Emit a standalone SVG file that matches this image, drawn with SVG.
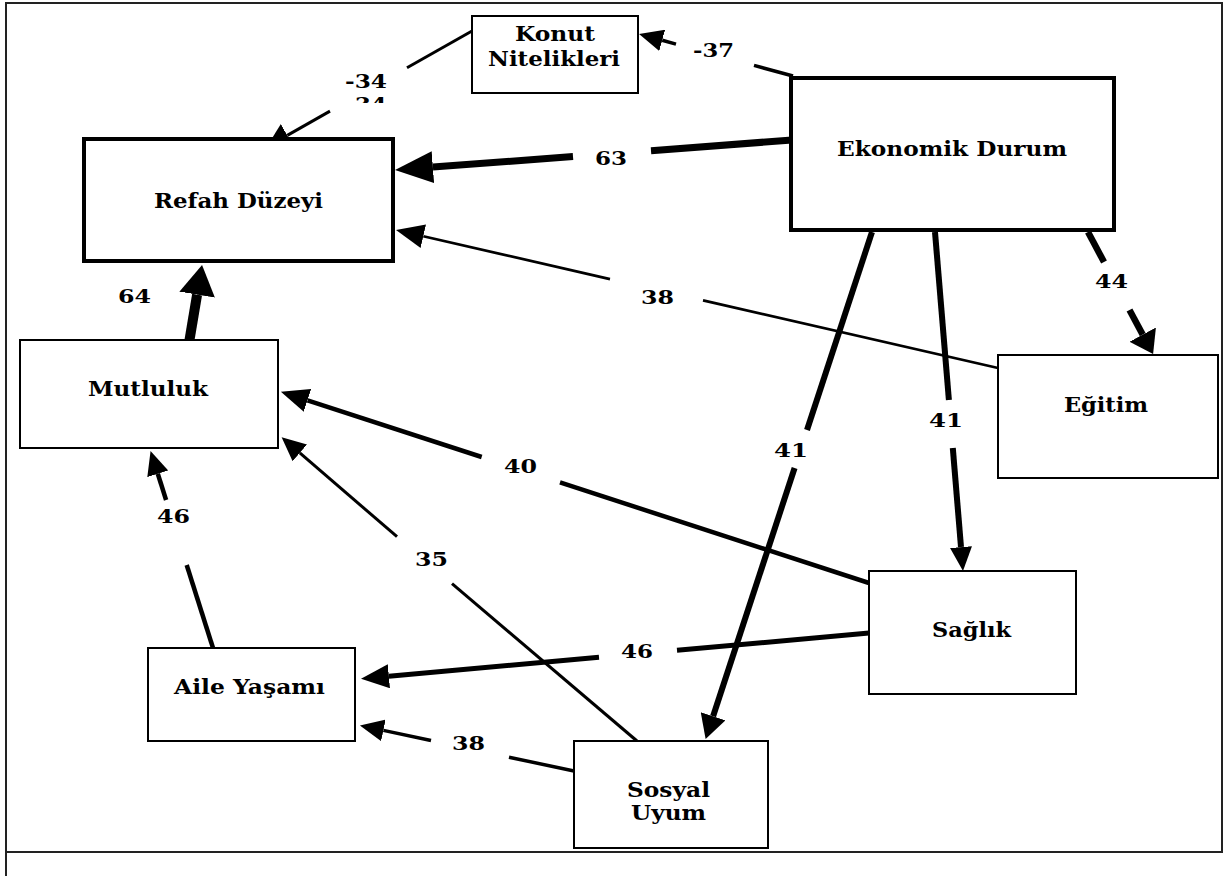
<svg xmlns="http://www.w3.org/2000/svg" width="1226" height="876" viewBox="0 0 1226 876">
<defs>
<style>
.t{font-family:"DejaVu Serif","Liberation Serif",serif;font-weight:bold;font-size:19px;fill:#000}
.n{font-size:20px}
.box{fill:#fff;stroke:#000;stroke-width:2}
.bold{fill:#fff;stroke:#000;stroke-width:4}
.c{fill:none;stroke:#000;stroke-linecap:butt}
</style>
<marker id="ah-s" markerUnits="userSpaceOnUse" viewBox="0 0 24 22" refX="0" refY="11" markerWidth="24" markerHeight="22" orient="auto"><path d="M0,0 L24,11 L0,22 z" fill="#000"/></marker>
<marker id="ah-k" markerUnits="userSpaceOnUse" viewBox="0 0 24 26" refX="0" refY="13" markerWidth="24" markerHeight="26" orient="auto"><path d="M0,0 L24,13 L0,26 z" fill="#000"/></marker>
<marker id="ah-m" markerUnits="userSpaceOnUse" viewBox="0 0 28 24" refX="0" refY="12" markerWidth="28" markerHeight="24" orient="auto"><path d="M0,0 L28,12 L0,24 z" fill="#000"/></marker>
<marker id="ah-w" markerUnits="userSpaceOnUse" viewBox="0 0 22 30" refX="0" refY="15" markerWidth="22" markerHeight="30" orient="auto"><path d="M0,0 L22,15 L0,30 z" fill="#000"/></marker>
<marker id="ah-l" markerUnits="userSpaceOnUse" viewBox="0 0 38 32" refX="0" refY="16" markerWidth="38" markerHeight="32" orient="auto"><path d="M0,0 L38,16 L0,32 z" fill="#000"/></marker>
<marker id="ah-x" markerUnits="userSpaceOnUse" viewBox="0 0 30 36" refX="0" refY="18" markerWidth="30" markerHeight="36" orient="auto"><path d="M0,0 L30,18 L0,36 z" fill="#000"/></marker>
<clipPath id="clip34"><rect x="330" y="90" width="70" height="13"/></clipPath>
</defs>
<rect x="0" y="0" width="1226" height="876" fill="#fff"/>
<path d="M6,876 V3 H1222 V852 H6" fill="none" stroke="#222" stroke-width="2"/>

<g id="connectors">
<!-- Konut -> Refah (-34) -->
<path class="c" stroke-width="3" d="M472,31 L407,67.7"/>
<path class="c" stroke-width="3" d="M330,111.1 L287.3,135.4" marker-end="url(#ah-k)"/>
<!-- Ekonomik -> Konut (-37) -->
<path class="c" stroke-width="3.5" d="M793,76 L754,65.4"/>
<path class="c" stroke-width="3.5" d="M676,44.1 L662.2,40.3" marker-end="url(#ah-s)"/>
<!-- Ekonomik -> Refah (63) -->
<path class="c" stroke-width="7" d="M792,140 L651,150.7"/>
<path class="c" stroke-width="7" d="M573,156.5 L432.9,167.1" marker-end="url(#ah-l)"/>
<!-- Egitim -> Refah (38) -->
<path class="c" stroke-width="2.7" d="M998,368 L703,300.4"/>
<path class="c" stroke-width="2.7" d="M610,279.1 L423.3,236.3" marker-end="url(#ah-m)"/>
<!-- Mutluluk -> Refah (64) -->
<path class="c" stroke-width="10" d="M189.5,340 L197.1,294.6" marker-end="url(#ah-x)"/>
<!-- Ekonomik -> Egitim (44) -->
<path class="c" stroke-width="6.5" d="M1088,232 L1104,262"/>
<path class="c" stroke-width="6.5" d="M1129.5,310 L1142.7,334.6" marker-end="url(#ah-w)"/>
<!-- Ekonomik -> Sosyal Uyum (41) -->
<path class="c" stroke-width="6" d="M872,232 L807,430"/>
<path class="c" stroke-width="6" d="M794.6,468 L713.1,716.3" marker-end="url(#ah-k)"/>
<!-- Ekonomik -> Saglik (41) -->
<path class="c" stroke-width="6" d="M935,232 L948.9,400"/>
<path class="c" stroke-width="6" d="M952.8,448 L961,547.1" marker-end="url(#ah-s)"/>
<!-- Saglik -> Mutluluk (40) -->
<path class="c" stroke-width="4.5" d="M869,583 L560,482.4"/>
<path class="c" stroke-width="4.5" d="M481.7,457 L307.5,400.3" marker-end="url(#ah-m)"/>
<!-- Sosyal Uyum -> Mutluluk (35) -->
<path class="c" stroke-width="3" d="M637,741 L452,583.7"/>
<path class="c" stroke-width="3" d="M397,536.7 L299.8,452.9" marker-end="url(#ah-s)"/>
<!-- Aile -> Mutluluk (46) -->
<path class="c" stroke-width="4.5" d="M213,648 L186.7,565"/>
<path class="c" stroke-width="4.5" d="M166.1,500 L157.8,473.8" marker-end="url(#ah-s)"/>
<!-- Saglik -> Aile (46) -->
<path class="c" stroke-width="5" d="M869,633 L677,650.3"/>
<path class="c" stroke-width="5" d="M599,657.3 L388.9,676.2" marker-end="url(#ah-m)"/>
<!-- Sosyal Uyum -> Aile (38) -->
<path class="c" stroke-width="3.5" d="M574,771 L509,757.2"/>
<path class="c" stroke-width="3.5" d="M431,740.5 L383.4,730.4" marker-end="url(#ah-s)"/>
</g>

<g id="labels">
<text class="t" x="345" y="88" textLength="42" lengthAdjust="spacingAndGlyphs">-34</text>
<text class="t" x="345" y="111" textLength="42" lengthAdjust="spacingAndGlyphs" clip-path="url(#clip34)">-34</text>
<text class="t" x="693" y="57" textLength="41" lengthAdjust="spacingAndGlyphs">-37</text>
<text class="t" x="595" y="165" textLength="32" lengthAdjust="spacingAndGlyphs">63</text>
<text class="t" x="641" y="304" textLength="33" lengthAdjust="spacingAndGlyphs">38</text>
<text class="t" x="118" y="303" textLength="33" lengthAdjust="spacingAndGlyphs">64</text>
<text class="t" x="1095" y="288" textLength="33" lengthAdjust="spacingAndGlyphs">44</text>
<text class="t" x="774" y="457" textLength="34" lengthAdjust="spacingAndGlyphs">41</text>
<text class="t" x="929" y="427" textLength="34" lengthAdjust="spacingAndGlyphs">41</text>
<text class="t" x="504" y="473" textLength="33" lengthAdjust="spacingAndGlyphs">40</text>
<text class="t" x="415" y="566" textLength="33" lengthAdjust="spacingAndGlyphs">35</text>
<text class="t" x="157" y="523" textLength="33" lengthAdjust="spacingAndGlyphs">46</text>
<text class="t" x="621" y="658" textLength="32" lengthAdjust="spacingAndGlyphs">46</text>
<text class="t" x="452" y="750" textLength="33" lengthAdjust="spacingAndGlyphs">38</text>
</g>

<g id="konut">
<rect class="box" x="472" y="16" width="166" height="77" stroke-width="1.7"/>
<text class="t n" x="515" y="41" textLength="80" lengthAdjust="spacingAndGlyphs">Konut</text>
<text class="t n" x="488" y="66" textLength="132" lengthAdjust="spacingAndGlyphs">Nitelikleri</text>
</g>
<g id="refah">
<rect class="bold" x="84" y="139" width="309" height="122"/>
<text class="t n" x="154" y="208" textLength="169" lengthAdjust="spacingAndGlyphs">Refah Düzeyi</text>
</g>
<g id="ekonomik">
<rect class="bold" x="791" y="78" width="323" height="152"/>
<text class="t n" x="837" y="156" textLength="230" lengthAdjust="spacingAndGlyphs">Ekonomik Durum</text>
</g>
<g id="mutluluk">
<rect class="box" x="20" y="340" width="258" height="108"/>
<text class="t n" x="88" y="396" textLength="120" lengthAdjust="spacingAndGlyphs">Mutluluk</text>
</g>
<g id="egitim">
<rect class="box" x="998" y="355" width="220" height="123"/>
<text class="t n" x="1064" y="412" textLength="84" lengthAdjust="spacingAndGlyphs">Eğitim</text>
</g>
<g id="saglik">
<rect class="box" x="869" y="571" width="207" height="123"/>
<text class="t n" x="932" y="637" textLength="79" lengthAdjust="spacingAndGlyphs">Sağlık</text>
</g>
<g id="aile">
<rect class="box" x="148" y="648" width="207" height="93"/>
<text class="t n" x="174" y="694" textLength="151" lengthAdjust="spacingAndGlyphs">Aile Yaşamı</text>
</g>
<g id="sosyal">
<rect class="box" x="574" y="741" width="194" height="107"/>
<text class="t n" x="627" y="797" textLength="83" lengthAdjust="spacingAndGlyphs">Sosyal</text>
<text class="t n" x="631" y="820" textLength="75" lengthAdjust="spacingAndGlyphs">Uyum</text>
</g>
</svg>
